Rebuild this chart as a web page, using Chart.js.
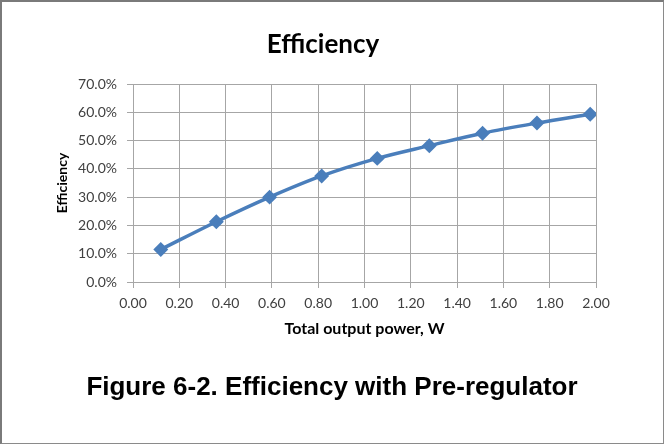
<!DOCTYPE html>
<html>
<head>
<meta charset="utf-8">
<script src="https://cdn.jsdelivr.net/npm/chart.js@4/dist/chart.umd.min.js"></script>
<style>
  body { margin: 0; background: #fff; }
  #wrap { position: relative; width: 664px; height: 444px; }
  #frame { position: absolute; left: 0; top: 0; width: 664px; height: 444px; box-sizing: border-box;
           border: 1px solid #8a8a8a; border-left: 2px solid #7a7a7a; border-top: 2px solid #7a7a7a; pointer-events: none; }
  #caption { position: absolute; left: 0; width: 664px; top: 371px; text-align: center;
             font: bold 26px "Liberation Sans", Arial, sans-serif; color: #000; }
</style>
</head>
<body>
<div id="wrap">
  <canvas id="chart" width="664" height="444"></canvas>
  <div id="caption">Figure 6-2. Efficiency with Pre-regulator</div>
  <div id="frame"></div>
</div>
<script>
// output power (W) and efficiency (%)
const power = [0.12, 0.36, 0.59, 0.815, 1.055, 1.28, 1.51, 1.745, 1.975];
const efficiency = [11.5, 21.3, 30.0, 37.5, 43.7, 48.2, 52.6, 56.2, 59.3];

const xTicks = [0, 0.2, 0.4, 0.6, 0.8, 1.0, 1.2, 1.4, 1.6, 1.8, 2.0];
const yTicks = [0, 10, 20, 30, 40, 50, 60, 70];

const gridColor = '#a6a6a6';
const tickFont = { family: 'Lato', size: 14 };

chartIt();
function chartIt() {
  const ctx = document.getElementById('chart').getContext('2d');
  const points = power.map((p, i) => ({ x: p, y: efficiency[i] }));

  new Chart(ctx, {
    type: 'line',
    data: {
      datasets: [{
        label: 'Efficiency',
        data: points,
        borderColor: '#4a7ebb',
        backgroundColor: '#4a7ebb',
        borderWidth: 3.5,
        tension: 0.35,
        pointStyle: 'rectRot',
        pointRadius: 5,
        pointHoverRadius: 5
      }]
    },
    options: {
      responsive: false,
      animation: false,
      layout: { padding: { left: 50, right: 68, top: 0, bottom: 102 } },
      plugins: {
        legend: { display: false },
        tooltip: { enabled: false },
        title: {
          display: true,
          text: 'Efficiency',
          color: '#000',
          font: { family: 'Lato', size: 26, weight: 'bold' },
          padding: { top: 29, bottom: 23.8 }
        }
      },
      scales: {
        x: {
          type: 'linear',
          min: xTicks[0],
          max: xTicks[xTicks.length - 1],
          afterBuildTicks: axis => { axis.ticks = xTicks.map(v => ({ value: v })); },
          afterFit: axis => { axis.height = 60; },
          ticks: {
            color: '#404040',
            font: tickFont,
            padding: 7,
            maxRotation: 0,
            callback: v => v.toFixed(2)
          },
          grid: { color: gridColor, tickColor: gridColor, tickLength: 6 },
          border: { color: gridColor },
          title: {
            display: true,
            text: 'Total output power, W',
            color: '#000',
            font: { family: 'Lato', size: 16, weight: 'bold' },
            padding: { top: 0, bottom: 3.4 }
          }
        },
        y: {
          min: yTicks[0],
          max: yTicks[yTicks.length - 1],
          afterBuildTicks: axis => { axis.ticks = yTicks.map(v => ({ value: v })); },
          afterFit: axis => { axis.width = 83; },
          ticks: {
            color: '#404040',
            font: tickFont,
            padding: 10,
            callback: v => v.toFixed(1) + '%'
          },
          grid: { color: gridColor, tickColor: gridColor, tickLength: 6 },
          border: { color: gridColor },
          title: {
            display: true,
            text: 'Efficiency',
            color: '#000',
            font: { family: 'Lato', size: 14, weight: 'bold' },
            padding: { top: 4, bottom: 0 }
          }
        }
      }
    }
  });
}
</script>
</body>
</html>
